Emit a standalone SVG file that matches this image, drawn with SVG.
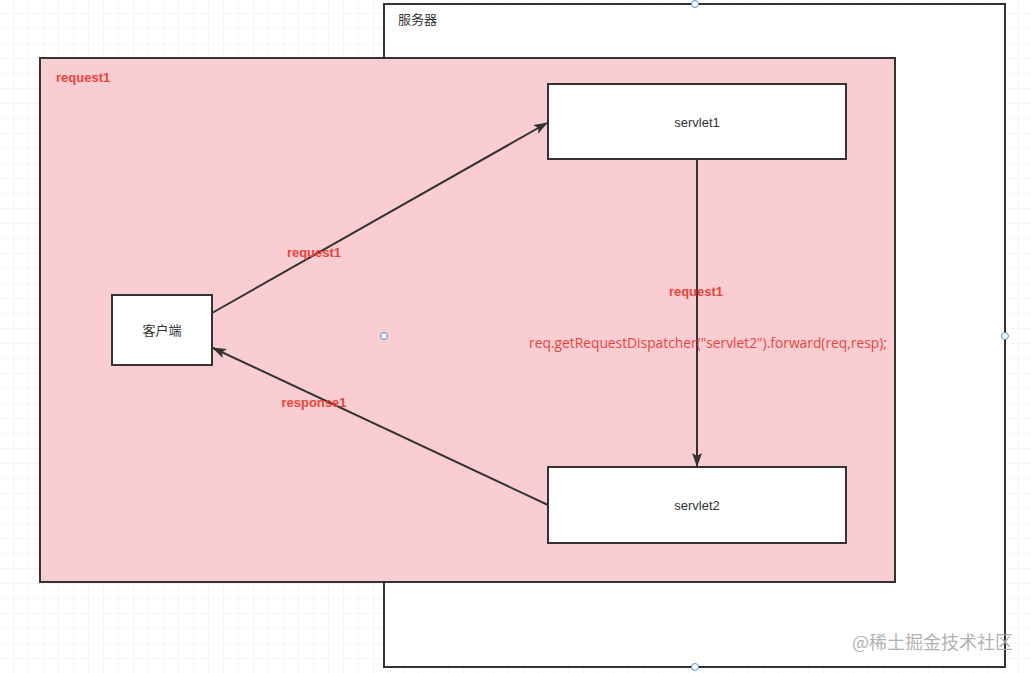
<svg xmlns="http://www.w3.org/2000/svg" width="1031" height="673" viewBox="0 0 1031 673">
<defs>
<pattern id="grid" x="-2" y="-2" width="15" height="15" patternUnits="userSpaceOnUse">
<path d="M15 0 L0 0 0 15" fill="none" stroke="#ebebeb" stroke-width="1"/>
</pattern>
<marker id="arrL" viewBox="0 0 14 10" refX="13" refY="5" markerWidth="14" markerHeight="10" markerUnits="userSpaceOnUse" orient="auto">
<path d="M0 0 L14 5 L0 10 L3 5 Z" fill="#333"/>
</marker>
</defs>
<style>
.box{fill:#fff;stroke:#333;stroke-width:2}
.lbl{font-family:"Liberation Sans","Noto Sans CJK SC",sans-serif;font-size:13px;fill:#333}
.red{font-family:"Liberation Sans","Noto Sans CJK SC",sans-serif;font-size:13px;fill:#E8453C}
.code{font-family:"Open Sans","Liberation Sans",sans-serif;font-size:13.8px;fill:#E8453C}
.bold{font-weight:bold}
.edge{stroke:#333;stroke-width:2;fill:none}
.handle{fill:#fff;stroke:#4a8fe0;stroke-width:1}
</style>
<rect width="1031" height="673" fill="#fff"/>
<rect width="1031" height="673" fill="url(#grid)"/>
<g id="server">
<rect class="box" x="384" y="4" width="621" height="663"/>
<text class="lbl" x="398" y="24" font-family="Noto Sans CJK SC">服务器</text>
</g>
<g id="request-scope">
<rect x="40" y="58" width="855" height="524" fill="#F9CDD1" stroke="#333" stroke-width="2"/>
<text class="red bold" x="56" y="82">request1</text>
</g>
<g id="client">
<rect class="box" x="112" y="295" width="100" height="70"/>
<text class="lbl" x="162" y="335" text-anchor="middle">客户端</text>
</g>
<g id="servlet1">
<rect class="box" x="548" y="84" width="298" height="75"/>
<text class="lbl" x="697" y="127" text-anchor="middle">servlet1</text>
</g>
<g id="servlet2">
<rect class="box" x="548" y="467" width="298" height="76"/>
<text class="lbl" x="697" y="510" text-anchor="middle">servlet2</text>
</g>
<g id="connectors">
<line class="edge" x1="212" y1="313" x2="547" y2="123" marker-end="url(#arrL)"/>
<line class="edge" x1="548" y1="505" x2="213" y2="348" marker-end="url(#arrL)"/>
<line class="edge" x1="697" y1="159" x2="697" y2="466" marker-end="url(#arrL)"/>
<text class="red bold" x="314" y="257" text-anchor="middle">request1</text>
<text class="red bold" x="314" y="407" text-anchor="middle">response1</text>
<text class="red bold" x="696" y="296" text-anchor="middle">request1</text>
<text class="code" x="708" y="348" text-anchor="middle">req.getRequestDispatcher("servlet2").forward(req,resp);</text>
</g>
<g id="handles">
<circle class="handle" cx="695" cy="4" r="3.5"/>
<circle class="handle" cx="1005" cy="336" r="3.5"/>
<circle class="handle" cx="695" cy="667" r="3.5"/>
<circle class="handle" cx="384" cy="336" r="3.5"/>
</g>
<text x="852" y="649" font-family="Noto Sans CJK SC,sans-serif" font-size="18" fill="#a8a8a8" fill-opacity="0.9">@稀土掘金技术社区</text>
</svg>
